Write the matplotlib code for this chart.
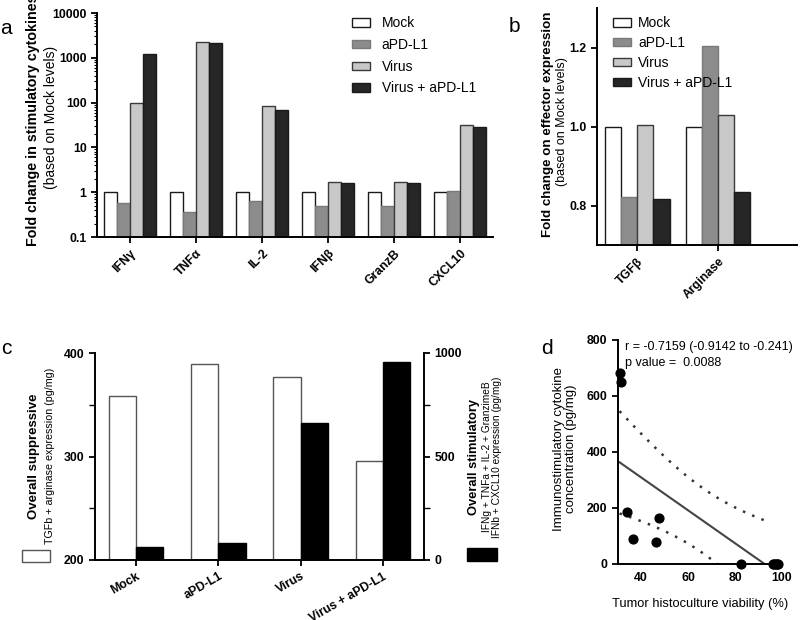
import numpy as np
import matplotlib
matplotlib.use('Agg')
import matplotlib.pyplot as plt
from matplotlib.patches import Rectangle
from matplotlib.ticker import FixedLocator, FixedFormatter, LogLocator, NullFormatter

plt.rcParams['font.family'] = ['Liberation Sans', 'DejaVu Sans']

# ---- data ----
groups = ['Mock', 'aPD-L1', 'Virus', 'Virus + aPD-L1']

# a: stimulatory cytokines, fold change vs mock
cytokines = ['IFNγ', 'TNFα', 'IL-2', 'IFNβ', 'GranzB', 'CXCL10']
mock_a = [1, 1, 1, 1, 1, 1]
apdl1_a = [0.57, 0.37, 0.64, 0.49, 0.49, 1.07]
virus_a = [100, 2230, 86, 1.67, 1.67, 31]
combo_a = [1230, 2180, 70, 1.58, 1.58, 28]

# b: effector expression, fold change vs mock
effectors = ['TGFβ', 'Arginase']
mock_b = [1.0, 1.0]
apdl1_b = [0.822, 1.205]
virus_b = [1.005, 1.028]
combo_b = [0.817, 0.833]

# c: overall suppressive / stimulatory (pg/mg)
suppressive = [358, 389, 377, 296]
stimulatory = [64, 81, 661, 955]

# d: viability vs cytokine concentration
viability = [30.8, 31.6, 34.1, 36.4, 46.4, 47.7, 82.7, 96.2, 96.8, 97.5, 98.0, 98.4]
cyto_conc = [681, 651, 187, 88, 77, 165, 0, 0, 0, 0, 0, 0]

bar_colors = ['white', '#8c8c8c', '#c8c8c8', '#262626']
edge_colors = ['#1a1a1a', '#7a7a7a', '#3a3a3a', '#1a1a1a']

W, H = 800, 620
fig = plt.figure(figsize=(8, 6.2), dpi=100)


def fx(px):
    return px / W


def fy(py):
    return 1 - py / H


def style_axes(ax):
    for s in ['top', 'right']:
        ax.spines[s].set_visible(False)
    for s in ['left', 'bottom']:
        ax.spines[s].set_linewidth(1.4)
    ax.tick_params(direction='out', length=4, width=1.3, labelsize=8.8)
    for lab in ax.get_yticklabels():
        lab.set_fontweight('bold')


# ---- panel a ----
ax_a = fig.add_axes([fx(97), fy(237), fx(493 - 97), (237 - 13) / H])
xa = np.arange(len(cytokines))
bw = 0.2
series_a = [mock_a, apdl1_a, virus_a, combo_a]
for i, vals in enumerate(series_a):
    ax_a.bar(xa + (i - 1.5) * bw, vals, bw, color=bar_colors[i],
             edgecolor=edge_colors[i], linewidth=1.0, label=groups[i])
ax_a.set_yscale('log')
ax_a.set_ylim(0.1, 10000)
ax_a.set_xlim(-0.5, 5.5)
ax_a.yaxis.set_major_locator(FixedLocator([0.1, 1, 10, 100, 1000, 10000]))
ax_a.yaxis.set_major_formatter(FixedFormatter(['0.1', '1', '10', '100', '1000', '10000']))
ax_a.yaxis.set_minor_locator(LogLocator(base=10, subs=np.arange(2, 10)))
ax_a.yaxis.set_minor_formatter(NullFormatter())
ax_a.tick_params(axis='y', which='minor', length=2, width=0.8)
ax_a.set_xticks(xa)
ax_a.set_xticklabels(cytokines, rotation=45, ha='right', rotation_mode='anchor',
                     fontsize=10, fontweight='bold')
style_axes(ax_a)
ax_a.legend(loc='upper left', bbox_to_anchor=(0.645, 0.985), frameon=False,
            fontsize=10, handlelength=1.3, handleheight=0.55, labelspacing=0.55,
            handletextpad=0.8, borderpad=0, borderaxespad=0)
fig.text(fx(33), fy(120), 'Fold change in stimulatory cytokines', rotation=90,
         ha='center', va='center', fontsize=10.3, fontweight='bold')
fig.text(fx(51), fy(117), '(based on Mock levels)', rotation=90,
         ha='center', va='center', fontsize=10)
fig.text(fx(6), fy(29), 'a', fontsize=15, ha='center', va='center')

# ---- panel b ----
ax_b = fig.add_axes([fx(597), fy(245), fx(797 - 597), (245 - 8) / H])
xb = np.arange(len(effectors))
series_b = [mock_b, apdl1_b, virus_b, combo_b]
for i, vals in enumerate(series_b):
    ax_b.bar(xb + (i - 1.5) * bw, vals, bw, color=bar_colors[i],
             edgecolor=edge_colors[i], linewidth=1.0, label=groups[i])
ax_b.set_ylim(0.7, 1.3)
ax_b.set_xlim(-0.5, 1.98)
ax_b.set_yticks([0.8, 1.0, 1.2])
ax_b.set_yticklabels(['0.8', '1.0', '1.2'])
ax_b.set_xticks(xb)
ax_b.set_xticklabels(effectors, rotation=45, ha='right', rotation_mode='anchor',
                     fontsize=10, fontweight='bold')
style_axes(ax_b)
ax_b.legend(loc='upper left', bbox_to_anchor=(0.08, 0.965), frameon=False,
            fontsize=10, handlelength=1.3, handleheight=0.55, labelspacing=0.42,
            handletextpad=0.5, borderpad=0, borderaxespad=0)
fig.text(fx(548), fy(124), 'Fold change on effector expression', rotation=90,
         ha='center', va='center', fontsize=9.6, fontweight='bold')
fig.text(fx(562), fy(122), '(based on Mock levels)', rotation=90,
         ha='center', va='center', fontsize=9)
fig.text(fx(514), fy(26), 'b', fontsize=15, ha='center', va='center')

# ---- panel c ----
ax_c = fig.add_axes([fx(95), fy(560), fx(424 - 95), (560 - 353) / H])
ax_c2 = ax_c.twinx()
xc = np.arange(len(groups))
cw = 0.33
ax_c.bar(xc - cw / 2, suppressive, cw, color='white', edgecolor='#555555', linewidth=1.0)
ax_c2.bar(xc + cw / 2, stimulatory, cw, color='black', edgecolor='black', linewidth=1.0)
ax_c.set_ylim(200, 400)
ax_c2.set_ylim(0, 1000)
ax_c.set_xlim(-0.5, 3.5)
ax_c.set_yticks([200, 300, 400])
ax_c.set_yticks([250, 350], minor=True)
ax_c2.set_yticks([0, 500, 1000])
ax_c2.set_yticks([250, 750], minor=True)
ax_c.set_xticks(xc)
ax_c.set_xticklabels(groups, rotation=30, ha='right', rotation_mode='anchor',
                     fontsize=9.3, fontweight='bold')
style_axes(ax_c)
ax_c2.spines['top'].set_visible(False)
ax_c2.spines['left'].set_visible(False)
ax_c2.spines['bottom'].set_visible(False)
ax_c2.spines['right'].set_linewidth(1.4)
ax_c2.tick_params(direction='out', length=4, width=1.3, labelsize=8.8)
for lab in ax_c2.get_yticklabels():
    lab.set_fontweight('bold')
ax_c.tick_params(axis='y', which='minor', length=4, width=1.0)
ax_c2.tick_params(axis='y', which='minor', length=4, width=1.0)

# side legends for c
fig.patches.append(Rectangle((fx(22), fy(562)), fx(28), 12 / H, transform=fig.transFigure,
                             facecolor='white', edgecolor='#555555', linewidth=1.0))
fig.text(fx(34), fy(456), 'Overall suppressive', rotation=90, ha='center', va='center',
         fontsize=9.5, fontweight='bold')
fig.text(fx(50), fy(456), 'TGFb + arginase expression (pg/mg)', rotation=90,
         ha='center', va='center', fontsize=7.7)
fig.patches.append(Rectangle((fx(467), fy(561)), fx(30), 13 / H, transform=fig.transFigure,
                             facecolor='black', edgecolor='black', linewidth=1.0))
fig.text(fx(474), fy(457), 'Overall stimulatory', rotation=90, ha='center', va='center',
         fontsize=9.3, fontweight='bold')
fig.text(fx(487.5), fy(457), 'IFNg + TNFa + IL-2 + GranzimeB', rotation=90,
         ha='center', va='center', fontsize=7.3)
fig.text(fx(497.5), fy(457), 'IFNb + CXCL10 expression (pg/mg)', rotation=90,
         ha='center', va='center', fontsize=7.3)
fig.text(fx(6), fy(349), 'c', fontsize=15, ha='center', va='center')

# ---- panel d ----
ax_d = fig.add_axes([fx(617.7), fy(564), fx(782 - 617.7), (564 - 340) / H])
xv = np.array(viability)
yv = np.array(cyto_conc)
n = len(xv)
slope, intercept = np.polyfit(xv, yv, 1)
x_end = -intercept / slope
xf = np.linspace(xv.min(), x_end, 200)
yf = slope * xf + intercept
resid = yv - (slope * xv + intercept)
s_err = np.sqrt(np.sum(resid ** 2) / (n - 2))
sxx = np.sum((xv - xv.mean()) ** 2)
t_crit = 2.228  # 95 %, df = 10
half = t_crit * s_err * np.sqrt(1 / n + (xf - xv.mean()) ** 2 / sxx)
ax_d.plot(xf, yf, color='#444444', lw=1.5)
ax_d.plot(xf, yf + half, color='#333333', lw=1.8, linestyle=(0, (1, 3)))
ax_d.plot(xf, yf - half, color='#333333', lw=1.8, linestyle=(0, (1, 3)))
ax_d.scatter(xv, yv, s=40, color='black', zorder=5, clip_on=False)
ax_d.set_xlim(30, 100)
ax_d.set_ylim(0, 800)
ax_d.set_xticks([40, 60, 80, 100])
ax_d.set_yticks([0, 200, 400, 600, 800])
style_axes(ax_d)
ax_d.tick_params(axis='x', length=0, pad=6)
for lab in ax_d.get_xticklabels():
    lab.set_fontweight('bold')
ax_d.set_xlabel('Tumor histoculture viability (%)', fontsize=9.3, labelpad=10)
fig.text(fx(565), fy(449), 'Immunostimulatory cytokine\nconcentration (pg/mg)', rotation=90,
         ha='center', va='center', fontsize=9.5, linespacing=1.05)
fig.text(fx(625), fy(347), 'r = -0.7159 (-0.9142 to -0.241)', ha='left', va='center', fontsize=9)
fig.text(fx(625), fy(363), 'p value =  0.0088', ha='left', va='center', fontsize=9)
fig.text(fx(547), fy(348), 'd', fontsize=15, ha='center', va='center')

fig.savefig('out.png', dpi=100)
